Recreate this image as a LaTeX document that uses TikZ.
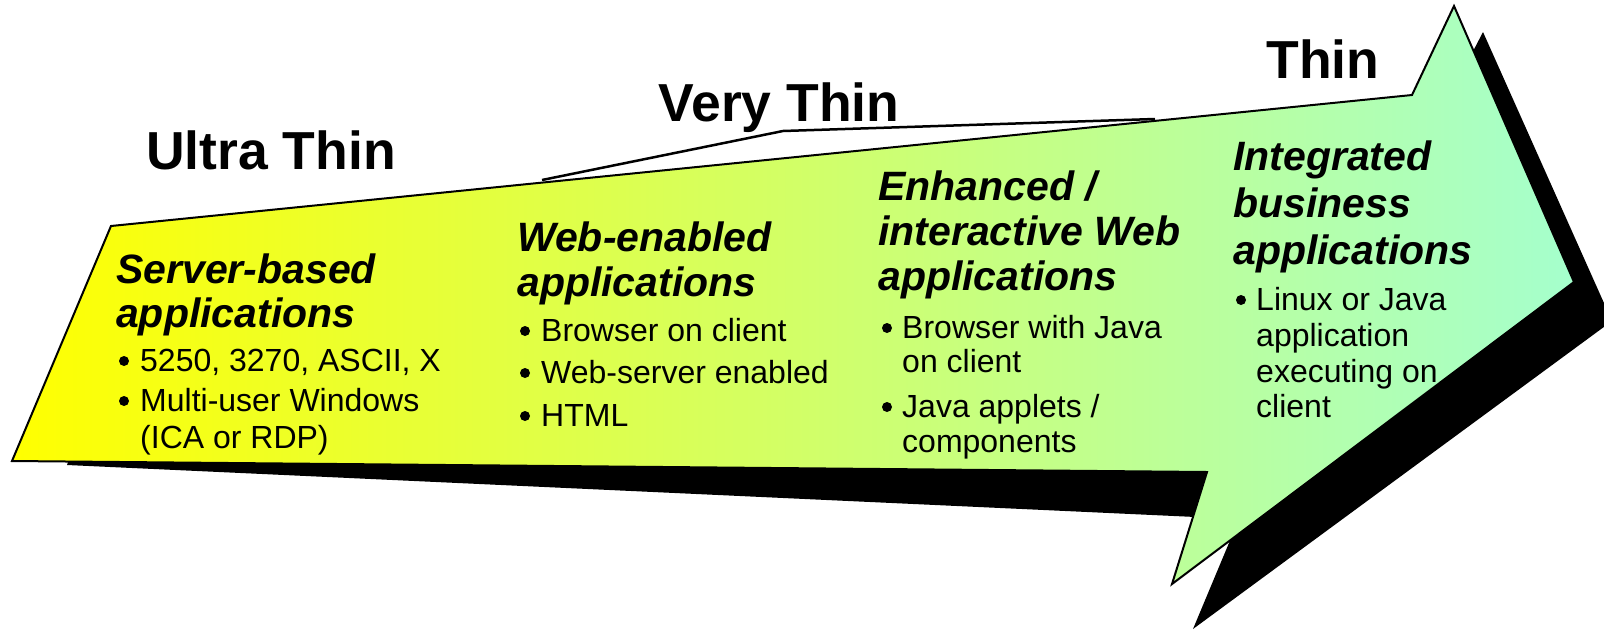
\documentclass[tikz,border=0pt]{standalone}
\usepackage{fontspec}
\setmainfont{Liberation Sans}
\definecolor{arrowL}{RGB}{255,255,0}
\definecolor{arrowR}{RGB}{165,255,205}
\begin{document}
\begin{tikzpicture}[x=1pt,y=-1pt,
  title/.style={font=\fontsize{53.5}{60}\selectfont\bfseries, anchor=base, inner sep=0pt},
  head/.style={font=\fontsize{41}{46}\selectfont\bfseries\itshape, anchor=base west, inner sep=0pt},
  item/.style={font=\fontsize{32}{37}\selectfont, anchor=base west, inner sep=0pt},
  dot/.style={circle, fill=black, minimum size=10pt, inner sep=0pt},
  outline/.style={draw=black, line width=2pt, line join=miter},
  bracket/.style={draw=black, line width=2.5pt, line join=miter}]
\useasboundingbox (0,0) rectangle (1604,630);
% shadow
\fill[black] (67,465) -- (150,240) -- (1440,115) -- (1483,32) -- (1612,321)
  -- (1193,629) -- (1239,519) -- cycle;
% main arrow
\path[outline, left color=arrowL, right color=arrowR]
  (111,226) -- (1412,95) -- (1454,6) -- (1574,282) -- (1172,584)
  -- (1207,472) -- (12,461) -- cycle;
% bracket for Very Thin
\coordinate (bl) at (542,180);
\coordinate (bm) at (783,131);
\coordinate (br) at (1155,119);
\draw[bracket] (bl) -- (bm) -- (br);
% titles
\node[title] (ultra) at (271,169) {Ultra Thin};
\node[title] (very) at (779,121) {Very Thin};
\node[title] (thin) at (1323,78) {Thin};
% column 1
\node[head] (h1a) at (116,283) {Server-based};
\node[head] (h1b) at (116,327) {applications};
\node[dot] (d1a) at (124,361) {};
\node[item] (t1a) at (140,371) {5250, 3270, ASCII, X};
\node[dot] (d1b) at (124,401) {};
\node[item] (t1b) at (140,411) {Multi-user Windows};
\node[item] (t1c) at (140,448) {(ICA or RDP)};
% column 2
\node[head] (h2a) at (517,251) {Web-enabled};
\node[head] (h2b) at (517,296) {applications};
\node[dot] (d2a) at (525,331) {};
\node[item] (t2a) at (541,341) {Browser on client};
\node[dot] (d2b) at (525,373) {};
\node[item] (t2b) at (541,383) {Web-server enabled};
\node[dot] (d2c) at (525,416) {};
\node[item] (t2c) at (541,426) {HTML};
% column 3
\node[head] (h3a) at (878,200) {Enhanced /};
\node[head] (h3b) at (878,245) {interactive Web};
\node[head] (h3c) at (878,290) {applications};
\node[dot] (d3a) at (887,328) {};
\node[item] (t3a) at (902,338) {Browser with Java};
\node[item] (t3b) at (902,372) {on client};
\node[dot] (d3b) at (887,407) {};
\node[item] (t3c) at (902,417) {Java applets /};
\node[item] (t3d) at (902,452) {components};
% column 4
\node[head] (h4a) at (1233,170) {Integrated};
\node[head] (h4b) at (1233,217) {business};
\node[head] (h4c) at (1233,264) {applications};
\node[dot] (d4a) at (1241,300) {};
\node[item] (t4a) at (1256,310) {Linux or Java};
\node[item] (t4b) at (1256,346) {application};
\node[item] (t4c) at (1256,382) {executing on};
\node[item] (t4d) at (1256,417) {client};
\end{tikzpicture}
\end{document}
